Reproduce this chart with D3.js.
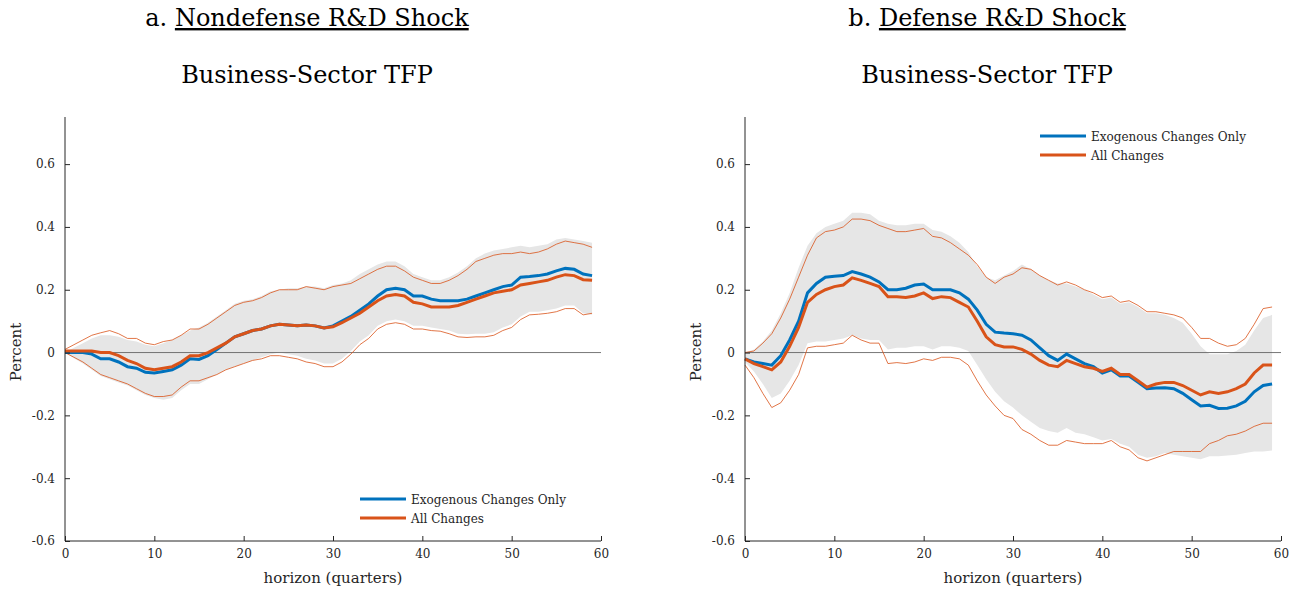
<!DOCTYPE html><html><head><meta charset="utf-8"><script src="https://d3js.org/d3.v7.min.js"></script>
<style>body{margin:0;background:#fff}svg text{font-family:"DejaVu Serif","Liberation Serif",serif !important}</style></head><body><svg id="c" width="1303" height="594"></svg>
<script>
const quarters=d3.range(60);
const xTicks=[0,10,20,30,40,50,60];
const yTicks=[0.6,0.4,0.2,0,-0.2,-0.4,-0.6];
const ndExog=[0,0,0,-0.005,-0.02,-0.02,-0.03,-0.045,-0.05,-0.063,-0.065,-0.06,-0.055,-0.04,-0.02,-0.022,-0.01,0.01,0.03,0.05,0.06,0.07,0.075,0.085,0.09,0.088,0.085,0.088,0.085,0.078,0.085,0.1,0.115,0.135,0.155,0.18,0.2,0.205,0.2,0.18,0.18,0.17,0.165,0.165,0.165,0.17,0.18,0.19,0.2,0.21,0.215,0.24,0.242,0.245,0.25,0.26,0.268,0.265,0.25,0.245];
const ndAll=[0.005,0.005,0.005,0.005,0,0,-0.01,-0.025,-0.035,-0.05,-0.055,-0.05,-0.045,-0.03,-0.01,-0.01,0,0.015,0.03,0.05,0.06,0.07,0.075,0.085,0.09,0.088,0.085,0.088,0.085,0.078,0.082,0.095,0.11,0.125,0.145,0.165,0.18,0.185,0.18,0.16,0.155,0.145,0.145,0.145,0.15,0.16,0.17,0.18,0.19,0.195,0.2,0.215,0.22,0.225,0.23,0.24,0.248,0.245,0.232,0.23];
const ndAllHi=[0.01,0.025,0.04,0.055,0.063,0.07,0.06,0.045,0.045,0.03,0.025,0.035,0.04,0.055,0.075,0.075,0.09,0.11,0.13,0.15,0.16,0.165,0.175,0.19,0.2,0.2,0.2,0.21,0.205,0.2,0.21,0.215,0.22,0.235,0.25,0.265,0.275,0.275,0.26,0.24,0.23,0.22,0.22,0.23,0.245,0.265,0.29,0.3,0.31,0.315,0.315,0.32,0.315,0.32,0.33,0.345,0.355,0.35,0.345,0.335];
const ndAllLo=[0,-0.015,-0.03,-0.05,-0.07,-0.08,-0.09,-0.1,-0.115,-0.13,-0.14,-0.14,-0.135,-0.11,-0.09,-0.09,-0.08,-0.07,-0.055,-0.045,-0.035,-0.025,-0.02,-0.01,-0.01,-0.015,-0.02,-0.03,-0.035,-0.045,-0.045,-0.03,-0.005,0.025,0.045,0.075,0.09,0.095,0.09,0.075,0.075,0.07,0.068,0.06,0.05,0.048,0.05,0.05,0.055,0.07,0.08,0.105,0.12,0.122,0.125,0.13,0.14,0.14,0.12,0.125];
const ndExogHi=[0,0.015,0.03,0.045,0.055,0.055,0.05,0.04,0.035,0.025,0.02,0.03,0.04,0.055,0.07,0.08,0.095,0.115,0.135,0.155,0.165,0.17,0.18,0.195,0.2,0.205,0.205,0.21,0.21,0.205,0.215,0.22,0.23,0.25,0.265,0.28,0.29,0.29,0.275,0.25,0.24,0.23,0.23,0.24,0.255,0.275,0.3,0.315,0.325,0.33,0.335,0.34,0.335,0.34,0.345,0.36,0.365,0.36,0.355,0.35];
const ndExogLo=[0,-0.018,-0.035,-0.055,-0.075,-0.085,-0.095,-0.105,-0.12,-0.135,-0.145,-0.15,-0.145,-0.12,-0.1,-0.1,-0.085,-0.07,-0.055,-0.045,-0.035,-0.025,-0.015,-0.005,0,-0.005,-0.01,-0.02,-0.025,-0.035,-0.035,-0.02,0.005,0.035,0.055,0.085,0.1,0.105,0.1,0.085,0.085,0.08,0.075,0.07,0.06,0.058,0.06,0.06,0.065,0.08,0.09,0.115,0.13,0.13,0.135,0.14,0.15,0.15,0.125,0.12];
const dExog=[-0.02,-0.03,-0.035,-0.04,-0.01,0.04,0.1,0.19,0.22,0.24,0.243,0.245,0.258,0.25,0.24,0.225,0.2,0.2,0.205,0.215,0.218,0.2,0.2,0.2,0.19,0.17,0.135,0.09,0.065,0.062,0.06,0.055,0.04,0.015,-0.01,-0.025,-0.005,-0.02,-0.035,-0.045,-0.065,-0.055,-0.075,-0.075,-0.095,-0.115,-0.113,-0.112,-0.115,-0.13,-0.15,-0.17,-0.168,-0.178,-0.177,-0.17,-0.155,-0.125,-0.105,-0.1];
const dAll=[-0.02,-0.035,-0.045,-0.055,-0.03,0.02,0.08,0.16,0.185,0.2,0.21,0.215,0.238,0.23,0.22,0.21,0.178,0.178,0.175,0.18,0.19,0.172,0.178,0.175,0.16,0.145,0.1,0.05,0.025,0.018,0.018,0.01,-0.005,-0.025,-0.04,-0.045,-0.025,-0.035,-0.045,-0.05,-0.06,-0.05,-0.07,-0.07,-0.09,-0.11,-0.1,-0.095,-0.095,-0.105,-0.12,-0.135,-0.125,-0.13,-0.125,-0.115,-0.1,-0.065,-0.04,-0.04];
const dAllHi=[0,0.005,0.03,0.06,0.11,0.17,0.24,0.31,0.365,0.385,0.39,0.4,0.425,0.425,0.42,0.405,0.395,0.385,0.385,0.39,0.395,0.37,0.365,0.35,0.33,0.31,0.28,0.24,0.22,0.24,0.25,0.27,0.265,0.245,0.23,0.215,0.225,0.215,0.2,0.19,0.175,0.18,0.16,0.165,0.15,0.13,0.13,0.125,0.12,0.11,0.08,0.045,0.045,0.03,0.02,0.025,0.045,0.09,0.14,0.145];
const dAllLo=[-0.04,-0.08,-0.13,-0.175,-0.16,-0.12,-0.07,0.015,0.02,0.02,0.025,0.03,0.055,0.04,0.03,0.03,-0.035,-0.032,-0.035,-0.03,-0.02,-0.025,-0.015,-0.015,-0.02,-0.04,-0.09,-0.135,-0.17,-0.2,-0.21,-0.245,-0.26,-0.28,-0.295,-0.295,-0.28,-0.285,-0.29,-0.29,-0.29,-0.28,-0.3,-0.31,-0.335,-0.345,-0.335,-0.325,-0.315,-0.315,-0.315,-0.315,-0.29,-0.28,-0.265,-0.26,-0.25,-0.235,-0.225,-0.225];
const dExogHi=[0,0.01,0.035,0.07,0.125,0.19,0.27,0.34,0.38,0.4,0.41,0.42,0.445,0.445,0.44,0.42,0.41,0.405,0.405,0.41,0.41,0.39,0.385,0.37,0.35,0.32,0.275,0.24,0.23,0.245,0.26,0.28,0.265,0.245,0.23,0.22,0.22,0.21,0.2,0.185,0.17,0.175,0.155,0.16,0.145,0.125,0.125,0.12,0.11,0.095,0.06,0.02,-0.005,-0.005,-0.005,0.005,0.025,0.07,0.11,0.12];
const dExogLo=[-0.03,-0.06,-0.1,-0.145,-0.13,-0.09,-0.04,0.03,0.035,0.035,0.04,0.045,0.055,0.045,0.04,0.04,0.01,0.015,0.015,0.02,0.02,0.01,0.02,0.02,0.015,0.005,-0.04,-0.085,-0.125,-0.155,-0.175,-0.2,-0.22,-0.24,-0.25,-0.255,-0.24,-0.255,-0.26,-0.27,-0.28,-0.275,-0.29,-0.3,-0.325,-0.335,-0.33,-0.32,-0.325,-0.33,-0.335,-0.34,-0.33,-0.33,-0.328,-0.325,-0.32,-0.315,-0.315,-0.312];
const BLUE="#0072BD",ORANGE="#D95319";
const svg=d3.select("#c");
const panels=[
 {x0:65,letter:"a. ",title:"Nondefense R&D Shock",exog:ndExog,all:ndAll,hi:ndAllHi,lo:ndAllLo,bhi:ndExogHi,blo:ndExogLo,ly:499},
 {x0:745,letter:"b. ",title:"Defense R&D Shock",exog:dExog,all:dAll,hi:dAllHi,lo:dAllLo,bhi:dExogHi,blo:dExogLo,ly:136}];
panels.forEach(p=>{
 const g=svg.append("g");
 const x=d3.scaleLinear().domain([0,60]).range([p.x0,p.x0+536]);
 const y=d3.scaleLinear().domain([-0.6,0.75]).range([541,117]);
 const cx=p.x0+242;
 const t=g.append("text").attr("x",cx).attr("y",26).attr("text-anchor","middle").attr("font-size",24);
 t.append("tspan").text(p.letter);
 t.append("tspan").attr("text-decoration","underline").text(p.title);
 g.append("text").attr("x",cx).attr("y",83).attr("text-anchor","middle").attr("font-size",24).text("Business-Sector TFP");
 g.append("path").datum(quarters).attr("fill","#e6e6e6")
  .attr("d",d3.area().x(i=>x(i)).y0(i=>y(p.blo[i])).y1(i=>y(p.bhi[i])));
 g.append("line").attr("x1",x(0)).attr("x2",x(60)).attr("y1",y(0)).attr("y2",y(0)).attr("stroke","#555").attr("stroke-width",0.8);
 const ln=arr=>d3.line().x(i=>x(i)).y(i=>y(arr[i]));
 [p.hi,p.lo].forEach(a=>g.append("path").datum(quarters).attr("fill","none").attr("stroke",ORANGE).attr("stroke-width",0.8).attr("d",ln(a)));
 g.append("path").datum(quarters).attr("fill","none").attr("stroke",BLUE).attr("stroke-width",3).attr("d",ln(p.exog));
 g.append("path").datum(quarters).attr("fill","none").attr("stroke",ORANGE).attr("stroke-width",3).attr("d",ln(p.all));
 const xa=g.append("g").attr("transform","translate(0,541)").call(d3.axisBottom(x).tickValues(xTicks).tickSize(-5).tickPadding(8));
 const ya=g.append("g").attr("transform",`translate(${p.x0},0)`).call(d3.axisLeft(y).tickValues(yTicks).tickSize(-5).tickPadding(10).tickFormat(d=>d===0?"0":d.toFixed(1)));
 [xa,ya].forEach(a=>{a.selectAll("text").attr("font-size",12).attr("fill","#262626");a.selectAll("line,path").attr("stroke","#262626");});
 ya.select(".domain").attr("d",`M0,541V117`);
 xa.select(".domain").attr("d",`M${p.x0},0H${p.x0+536}`);
 g.append("text").attr("x",p.x0+268).attr("y",583).attr("text-anchor","middle").attr("font-size",15).attr("fill","#262626").text("horizon (quarters)");
 g.append("text").attr("transform",`translate(${p.x0-44},352) rotate(-90)`).attr("text-anchor","middle").attr("font-size",15).attr("fill","#262626").text("Percent");
 const lx=p.x0+295;
 [["Exogenous Changes Only",BLUE],["All Changes",ORANGE]].forEach((d,i)=>{
  g.append("line").attr("x1",lx).attr("x2",lx+46).attr("y1",p.ly+i*19).attr("y2",p.ly+i*19).attr("stroke",d[1]).attr("stroke-width",3);
  g.append("text").attr("x",lx+51).attr("y",p.ly+i*19+4.5).attr("font-size",12).attr("fill","#262626").text(d[0]);
 });
});
</script></body></html>
